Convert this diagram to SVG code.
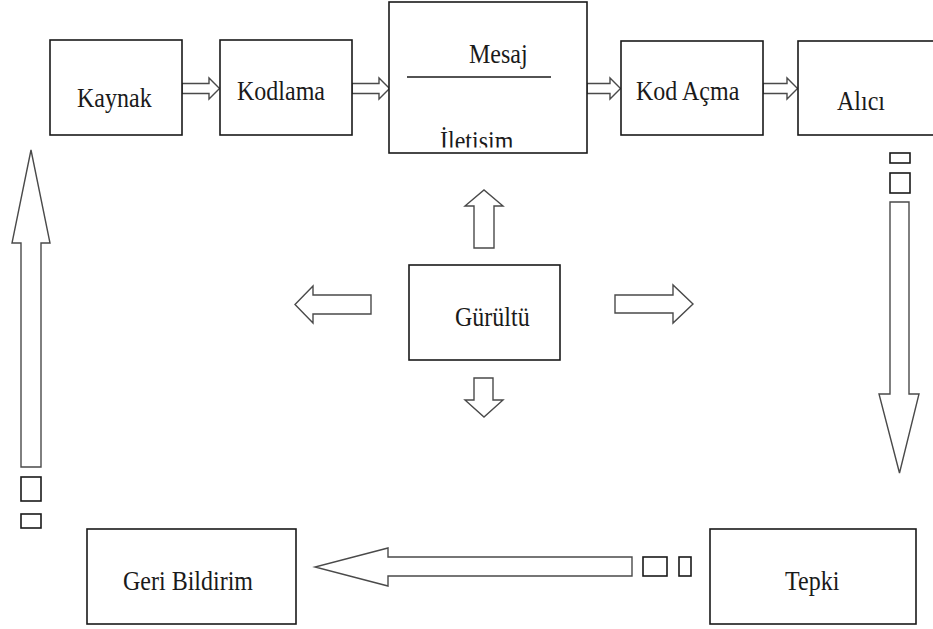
<svg xmlns="http://www.w3.org/2000/svg" width="933" height="629" viewBox="0 0 933 629">
<style>
.box{fill:#fff;stroke:#1a1a1a;stroke-width:1.6}
.arr{fill:#fff;stroke:#4a4a4a;stroke-width:1.4;stroke-linejoin:miter}
.sq{fill:#fff;stroke:#1a1a1a;stroke-width:1.6}
.lbl{font-family:"Liberation Serif","Times New Roman",serif;font-size:24px;fill:#1a1a1a}
</style>
<defs>
<clipPath id="clipMesaj"><rect x="389" y="2" width="198" height="145.5"/></clipPath>
</defs>
<rect width="933" height="629" fill="#fff"/>

<g id="connectors">
  <path class="arr" d="M182,83.5 H209 V78 L219.5,88.5 L209,99 V93.5 H182 Z"/>
  <path class="arr" d="M352,83.5 H379 V78 L389.5,88.5 L379,99 V93.5 H352 Z"/>
  <path class="arr" d="M587,83.5 H610 V78 L620.5,88.5 L610,99 V93.5 H587 Z"/>
  <path class="arr" d="M763,83.5 H787 V78 L797.5,88.5 L787,99 V93.5 H763 Z"/>
  <rect class="sq" x="890" y="153" width="20" height="10"/>
  <rect class="sq" x="890" y="173" width="20" height="20"/>
  <path class="arr" d="M890,202 H909 V394 H919 L899.5,473 L879,394 H890 Z"/>
  <rect class="sq" x="679" y="557" width="12" height="19"/>
  <rect class="sq" x="643" y="557" width="24" height="19"/>
  <path class="arr" d="M632,557 V576 H388 V586 L315,567 L388,548 V557 Z"/>
  <rect class="sq" x="21" y="514" width="20" height="14"/>
  <rect class="sq" x="21" y="477" width="20" height="24"/>
  <path class="arr" d="M21,467 V243 H12 L31,150 L50,243 H41 V467 Z"/>
  <path class="arr" d="M474,248 V206 H465 L484,190 L503,206 H494 V248 Z"/>
  <path class="arr" d="M474,378 V400 H465 L484,417 L503,400 H493 V378 Z"/>
  <path class="arr" d="M371,295 H313 V286 L295,304.5 L313,323 V314 H371 Z"/>
  <path class="arr" d="M615,295 H673 V285 L693,304 L673,323 V313 H615 Z"/>
</g>

<g id="kaynak">
  <rect class="box" x="50" y="40" width="132" height="95"/>
  <text class="lbl" transform="translate(77,107) scale(1,1.15)">Kaynak</text>
</g>
<g id="kodlama">
  <rect class="box" x="220" y="40" width="132" height="95"/>
  <text class="lbl" transform="translate(237,100) scale(1,1.15)">Kodlama</text>
</g>
<g id="mesaj">
  <rect class="box" x="389" y="2" width="198" height="151"/>
  <line x1="407" y1="77" x2="551" y2="77" stroke="#1a1a1a" stroke-width="1.6"/>
  <text class="lbl" transform="translate(469,63) scale(1,1.15)">Mesaj</text>
  <g clip-path="url(#clipMesaj)">
    <text class="lbl" transform="translate(440,150) scale(1,1.15)">İletisim</text>
  </g>
</g>
<g id="kodacma">
  <rect class="box" x="621" y="41" width="142" height="94"/>
  <text class="lbl" transform="translate(636,100) scale(1,1.15)">Kod Açma</text>
</g>
<g id="alici">
  <rect class="box" x="798" y="41" width="145" height="94"/>
  <text class="lbl" transform="translate(837,110) scale(1,1.15)">Alıcı</text>
</g>
<g id="gurultu">
  <rect class="box" x="409" y="265" width="151" height="95"/>
  <text class="lbl" transform="translate(455,326) scale(1,1.15)">Gürültü</text>
</g>
<g id="geribildirim">
  <rect class="box" x="87" y="529" width="209" height="95"/>
  <text class="lbl" transform="translate(123,590) scale(1,1.15)">Geri Bildirim</text>
</g>
<g id="tepki">
  <rect class="box" x="710" y="529" width="206" height="95"/>
  <text class="lbl" transform="translate(785,590) scale(1,1.15)">Tepki</text>
</g>
</svg>
